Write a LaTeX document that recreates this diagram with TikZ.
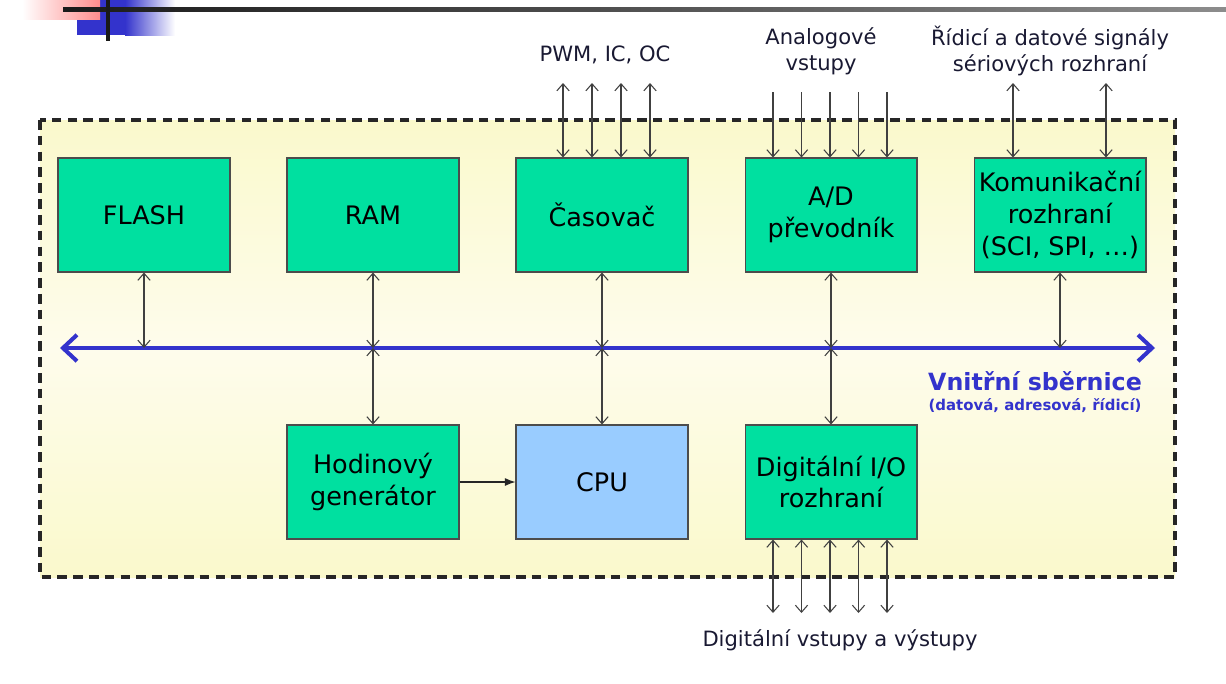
\documentclass[tikz,border=0pt]{standalone}
\usepackage{fontspec}
\setmainfont{DejaVu Sans}
\usetikzlibrary{arrows.meta,calc}
\definecolor{mcugreen}{RGB}{0,224,160}
\definecolor{mcublue}{RGB}{153,204,255}
\definecolor{busblue}{RGB}{51,51,204}
\definecolor{chipbg}{RGB}{250,249,204}
\definecolor{chipmid}{RGB}{254,252,236}
\definecolor{hdrred}{RGB}{255,140,140}
\definecolor{txtdark}{RGB}{25,25,50}

\begin{document}
\begin{tikzpicture}[x=0.02cm,y=-0.02cm,
  blok/.style={draw=black!70,line width=0.6pt,fill=mcugreen,minimum width=3.44cm,
    minimum height=2.28cm,inner sep=0pt,align=center,font=\fontsize{14.5}{18}\selectfont},
  sig/.style={black!75,line width=0.6pt,
    {Straight Barb[length=4pt,width=7pt]}-{Straight Barb[length=4pt,width=7pt]}},
  sigin/.style={black!75,line width=0.6pt,-{Straight Barb[length=4pt,width=7pt]}},
  lbl/.style={text=txtdark,align=center,font=\fontsize{12}{15}\selectfont}]
  \useasboundingbox (0,0) rectangle (1226,683);
  % ---- slide header
  \fill[busblue] (77,0) rectangle (125,35);
  \shade[left color=busblue,right color=white] (125,0) rectangle (175,35);
  \shade[left color=white,right color=hdrred] (22,0) rectangle (100,19);
  \shade[left color=black!90,right color=black!45] (63,7) rectangle (1226,11);
  \fill[black!90] (106,0) rectangle (110,41);
  % ---- chip outline
  \shade[top color=chipbg,bottom color=chipbg,middle color=chipmid] (40,120) rectangle (1175,577);
  \draw[black!85,line width=1.8pt,dash pattern=on 5.5pt off 3.5pt] (40,120) rectangle (1175,577);
  % ---- blocks
  \node[blok] (flash) at (144,215) {FLASH};
  \node[blok] (ram) at (373,215) {RAM};
  \node[blok] (timer) at (602,215) {Časovač};
  \node[blok] (adc) at (831,215) {A/D\\převodník};
  \node[blok] (comm) at (1060,215) {Komunikační\\rozhraní\\(SCI, SPI, …)};
  \node[blok] (clock) at (373,482) {Hodinový\\generátor};
  \node[blok,fill=mcublue] (cpu) at (602,482) {CPU};
  \node[blok] (dio) at (831,482) {Digitální I/O\\rozhraní};
  % ---- internal bus
  \coordinate (busL) at (60,348);
  \coordinate (busR) at (1155,348);
  \draw[busblue,line width=2.3pt,
    {Straight Barb[length=8pt,width=15pt]}-{Straight Barb[length=8pt,width=15pt]}] (busL) -- (busR);
  \node[text=busblue,font=\bfseries\fontsize{13.5}{15}\selectfont] (busname) at (1035,381) {Vnitřní sběrnice};
  \node[text=busblue,font=\bfseries\fontsize{8.5}{10}\selectfont] (busnote) at (1035,406) {(datová, adresová, řídicí)};
  % ---- bus connections
  \foreach \b in {flash,ram,timer,adc,comm}
    \draw[sig] (\b) -- (\b |- busL);
  \draw[sig] (ram |- busL) -- (clock);
  \draw[sig] (timer |- busL) -- (cpu);
  \draw[sig] (adc |- busL) -- (dio);
  \draw[black!85,line width=0.6pt,-{Latex[length=6pt,width=4.5pt]}] (clock) -- (cpu);
  % ---- outside signals
  \foreach \i in {0,...,3} {
    \coordinate (pwm\i) at (563+29*\i,83);
    \draw[sig] (pwm\i) -- (pwm\i |- timer.north);
  }
  \foreach \i in {0,...,4} {
    \coordinate (ain\i) at (773+28.5*\i,92);
    \draw[sigin] (ain\i) -- (ain\i |- adc.north);
    \coordinate (dout\i) at (773+28.5*\i,613);
    \draw[sig] (dio.south -| dout\i) -- (dout\i);
  }
  \foreach \x [count=\i] in {1013,1106} {
    \coordinate (ser\i) at (\x,83);
    \draw[sig] (ser\i) -- (ser\i |- comm.north);
  }
  \node[lbl] (pwmlbl) at (605,55) {PWM, IC, OC};
  \node[lbl] (ainlbl) at (821,51) {Analogové\\vstupy};
  \node[lbl] (serlbl) at (1050,51) {Řídicí a datové signály\\sériových rozhraní};
  \node[lbl] (diolbl) at (840,640) {Digitální vstupy a výstupy};
\end{tikzpicture}
\end{document}
